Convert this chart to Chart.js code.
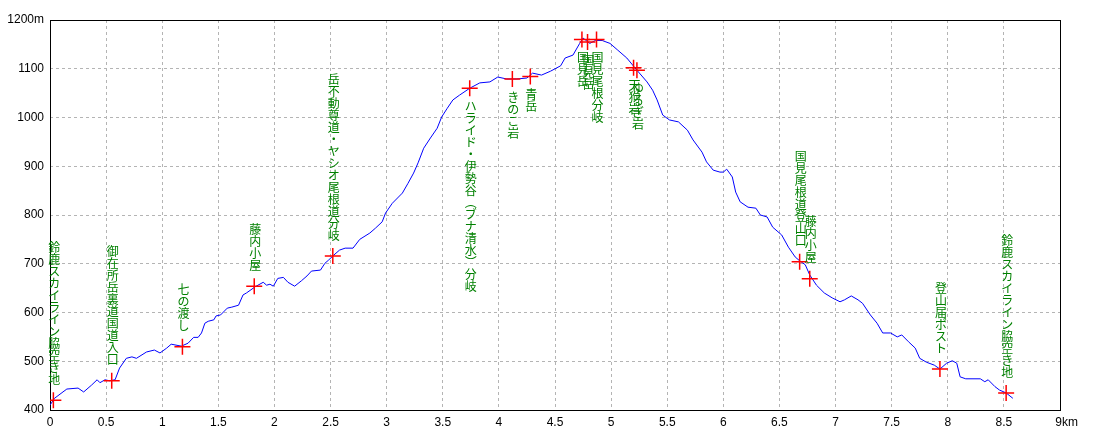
<!DOCTYPE html>
<html>
<head>
<meta charset="utf-8">
<script src="https://cdn.jsdelivr.net/npm/chart.js@4/dist/chart.umd.min.js"></script>
<style>
  body { margin: 0; background: #fff; }
</style>
</head>
<body>
<canvas id="profile" width="1100" height="440"></canvas>
<script>
// track profile, distance (km) and elevation (m)
const distKm = [
  0.00, 0.04, 0.15, 0.25, 0.30, 0.37, 0.42, 0.445, 0.49, 0.53, 0.58, 0.62, 0.68, 0.73, 0.77,
  0.86, 0.93, 0.98, 1.04, 1.08, 1.17, 1.23, 1.28, 1.32, 1.35, 1.38, 1.41, 1.46, 1.48, 1.52,
  1.58, 1.62, 1.68, 1.72, 1.75, 1.83, 1.90, 1.93, 1.96, 1.99, 2.03, 2.08, 2.12, 2.18, 2.24,
  2.29, 2.33, 2.41, 2.45, 2.48, 2.53, 2.58, 2.63, 2.70, 2.76, 2.85, 2.90, 2.96, 2.99, 3.05,
  3.14, 3.19, 3.24, 3.28, 3.33, 3.39, 3.45, 3.49, 3.54, 3.59, 3.65, 3.74, 3.83, 3.92, 3.99,
  4.07, 4.16, 4.25, 4.30, 4.38, 4.46, 4.55, 4.59, 4.66, 4.72, 4.75, 4.81, 4.86, 4.92, 4.99,
  5.06, 5.14, 5.23, 5.32, 5.37, 5.41, 5.46, 5.52, 5.60, 5.68, 5.73, 5.81, 5.85, 5.91, 5.97,
  6.00, 6.03, 6.08, 6.11, 6.15, 6.22, 6.29, 6.33, 6.39, 6.44, 6.52, 6.58, 6.64, 6.68, 6.73,
  6.77, 6.83, 6.90, 6.97, 7.04, 7.08, 7.14, 7.20, 7.24, 7.31, 7.37, 7.42, 7.49, 7.55, 7.59,
  7.65, 7.71, 7.75, 7.81, 7.88, 7.93, 7.99, 8.04, 8.08, 8.11, 8.16, 8.29, 8.33, 8.36, 8.42,
  8.46, 8.52, 8.58
];
const elevM = [
  410, 424, 443, 445, 437, 451, 462, 456, 462, 460, 462, 486, 506, 509, 506,
  519, 523, 517, 527, 535, 531, 537, 549, 549, 558, 578, 582, 585, 593, 595,
  609, 611, 615, 636, 640, 653, 662, 656, 658, 654, 670, 672, 662, 654, 665,
  675, 685, 687, 701, 707, 718, 728, 732, 732, 750, 763, 773, 786, 804, 824,
  845, 865, 886, 907, 937, 958, 978, 1001, 1019, 1036, 1046, 1060, 1071, 1073, 1083,
  1079, 1079, 1081, 1091, 1087, 1095, 1106, 1122, 1128, 1152, 1163, 1152, 1158, 1158, 1152,
  1138, 1122, 1097, 1073, 1056, 1036, 1005, 995, 991, 974, 954, 929, 909, 892, 888,
  888, 894, 878, 847, 827, 816, 814, 800, 796, 775, 759, 734, 714, 706, 698,
  677, 656, 640, 630, 622, 626, 634, 626, 619, 595, 578, 558, 558, 550, 554,
  540, 527, 506, 498, 492, 484, 496, 501, 496, 468, 464, 464, 458, 462, 448,
  441, 435, 424
];

// waypoints
const wpDist = [0.03, 0.55, 1.18, 1.82, 2.52, 3.74, 4.12, 4.28, 4.74, 4.79, 4.87, 5.20, 5.23, 6.68, 6.77, 7.93, 8.52];
const wpElev = [420, 460, 530, 654, 716, 1060, 1079, 1084, 1160, 1155, 1160, 1102, 1097, 704, 669, 484, 435];
const wpName = [
  "鈴鹿スカイライン脇空き地",
  "御在所岳裏道国道入口",
  "七の渡し",
  "藤内小屋",
  "岳不動尊道・ヤシオ尾根道分岐",
  "ハライド・伊勢谷(ブナ清水)分岐",
  "きのこ岩",
  "青岳",
  "国見岳",
  "国見岳",
  "国見尾根分岐",
  "天狗岩",
  "ゆるぎ岩",
  "国見尾根道登山口",
  "藤内小屋",
  "登山届ポスト",
  "鈴鹿スカイライン脇空き地"
];

const yTicks = [400, 500, 600, 700, 800, 900, 1000, 1100, 1200];

const verticalForms = { "(": "\uFE35", ")": "\uFE36" };

// frame round the plot area plus vertical waypoint names
const profileDecor = {
  id: "profileDecor",
  beforeDatasetsDraw(chart) {
    const { ctx, chartArea: a } = chart;
    ctx.save();
    ctx.strokeStyle = "#000";
    ctx.lineWidth = 1;
    ctx.strokeRect(a.left + 0.5, a.top + 0.5, a.right - a.left, a.bottom - a.top);
    ctx.restore();
  },
  afterDatasetsDraw(chart) {
    const { ctx, scales } = chart;
    const step = 12;
    ctx.save();
    ctx.font = "12px 'Noto Sans CJK JP'";
    ctx.fillStyle = "#008000";
    ctx.textAlign = "center";
    ctx.textBaseline = "middle";
    wpName.forEach((name, i) => {
      const chars = Array.from(name).map((c) => verticalForms[c] || c);
      const px = scales.x.getPixelForValue(wpDist[i]);
      const py = scales.y.getPixelForValue(wpElev[i]);
      // near the summit the names hang below the mark, elsewhere above
      const top = wpElev[i] > 1000 ? py + 12 : py - 15 - chars.length * step;
      chars.forEach((c, k) => ctx.fillText(c, px + 1, top + k * step + step / 2));
    });
    ctx.restore();
  }
};

new Chart(document.getElementById("profile"), {
  type: "scatter",
  data: {
    datasets: [
      {
        type: "line",
        data: distKm.map((d, i) => ({ x: d, y: elevM[i] })),
        borderColor: "#0000ff",
        borderWidth: 1,
        pointRadius: 0,
        tension: 0,
        order: 2
      },
      {
        data: wpDist.map((d, i) => ({ x: d, y: wpElev[i] })),
        pointStyle: "cross",
        pointRadius: 8,
        pointBorderColor: "#ff0000",
        pointBorderWidth: 1.5,
        order: 1
      }
    ]
  },
  options: {
    responsive: false,
    animation: false,
    devicePixelRatio: 1,
    layout: { padding: { top: 20, right: 40, left: 0, bottom: 0 } },
    plugins: {
      legend: { display: false },
      tooltip: { enabled: false }
    },
    scales: {
      x: {
        type: "linear",
        min: 0,
        max: 9,
        afterFit: (s) => { s.height = 30; },
        ticks: {
          stepSize: 0.5,
          padding: 5,
          color: "#000",
          font: { family: "Liberation Sans", size: 12 },
          maxRotation: 0,
          autoSkip: false,
          callback: (v) => (v === 9 ? "    9km" : v)
        },
        grid: { color: "#b4b4b4", drawTicks: false },
        border: { display: false, dash: [3, 3] }
      },
      y: {
        min: 400,
        max: 1200,
        afterFit: (s) => { s.width = 50; },
        afterBuildTicks: (s) => { s.ticks = yTicks.map((v) => ({ value: v })); },
        ticks: {
          padding: 6,
          color: "#000",
          font: { family: "Liberation Sans", size: 12 },
          callback: (v) => (v === 1200 ? "1200m" : v)
        },
        grid: { color: "#b4b4b4", drawTicks: false },
        border: { display: false, dash: [3, 3] }
      }
    }
  },
  plugins: [profileDecor]
});
</script>
</body>
</html>
